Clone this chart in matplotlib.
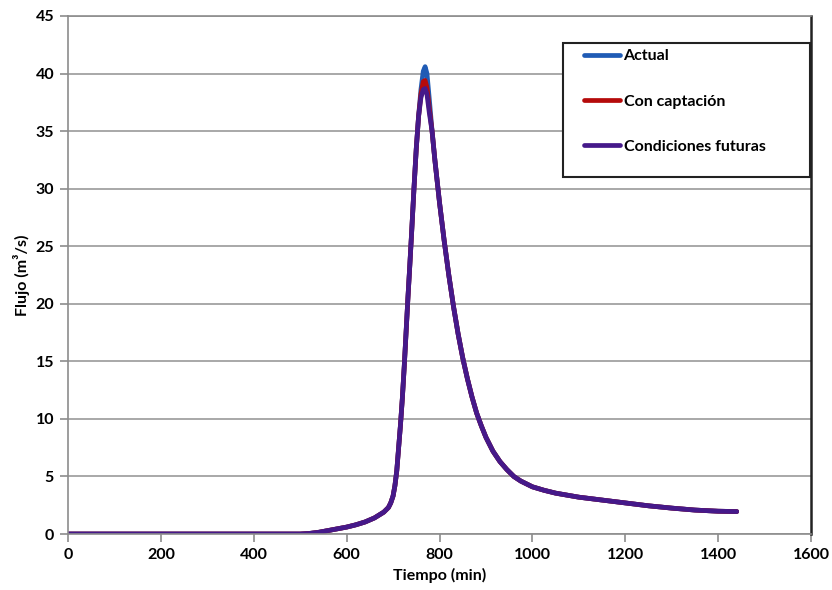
import matplotlib.pyplot as plt
from matplotlib.patches import Rectangle

plt.rcParams['font.family'] = ['Lato', 'DejaVu Sans']

# Hydrograph readings (time in minutes, flow in m3/s)
tiempo = [0, 100, 200, 300, 400, 500, 520, 540, 560, 580, 600, 620, 640, 660,
          680, 690, 695, 700, 704, 708, 712, 716, 720, 724, 728, 732, 736, 740,
          745, 750, 755, 760, 765, 769, 773, 778, 784, 790, 800, 810, 820, 830,
          840, 850, 860, 870, 880, 890, 900, 915, 930, 945, 960, 975, 990, 1000,
          1025, 1050, 1100, 1150, 1200, 1250, 1300, 1350, 1400, 1440]

subida = [0, 0, 0, 0, 0, 0, 0.05, 0.15, 0.3, 0.45, 0.6, 0.8, 1.05, 1.4,
          1.9, 2.3, 2.7, 3.3, 4.2, 5.5, 7.5, 9.5, 11.8, 14.5, 17.5, 20.5, 23.3,
          26.2, 30.0, 33.5, 36.3]
bajada = [35.0, 32.5, 28.8, 25.5, 22.5, 19.8,
          17.4, 15.3, 13.5, 11.9, 10.5, 9.4, 8.4, 7.2, 6.3, 5.6, 5.0, 4.6, 4.3, 4.1,
          3.8, 3.55, 3.2, 2.95, 2.7, 2.45, 2.25, 2.08, 1.98, 1.95]

actual = subida + [38.6, 40.2, 40.6, 40.0, 37.8] + bajada
captacion = subida + [38.2, 39.3, 39.4, 38.8, 37.0] + bajada
futuras = subida + [37.9, 38.6, 38.7, 38.2, 36.6] + bajada

series = [
    ("Actual", actual, "#1f5bb5"),
    ("Con captación", captacion, "#b50a0a"),
    ("Condiciones futuras", futuras, "#45198a"),
]

fig = plt.figure(figsize=(8.32, 5.90), dpi=100)
ax = fig.add_axes([0.0817, 0.0949, 0.8931, 0.878])

for nombre, valores, color in series:
    ax.plot(tiempo, valores, color=color, lw=3.4, label=nombre,
            solid_joinstyle='round', solid_capstyle='round')

ax.set_xlim(0, 1600)
ax.set_ylim(0, 45)
ax.set_xticks(range(0, 1601, 200))
ax.set_yticks(range(0, 46, 5))
ax.yaxis.grid(True, color='#9a9a9a', lw=1.2)
ax.set_axisbelow(True)

for lado in ['left', 'bottom', 'top']:
    ax.spines[lado].set_color('#8c8c8c')
    ax.spines[lado].set_linewidth(1.2)
ax.spines['right'].set_color('#222222')
ax.spines['right'].set_linewidth(1.8)

ax.tick_params(direction='out', length=6, width=1.2, color='#8c8c8c',
               labelsize=11.5, pad=4)
for lbl in ax.get_xticklabels() + ax.get_yticklabels():
    lbl.set_fontweight('bold')

ax.set_xlabel('Tiempo (min)', fontsize=11.5, fontweight='bold', labelpad=4)
ax.set_ylabel('Flujo (m³/s)', fontsize=11.5, fontweight='bold', labelpad=4)

# legend box drawn separately so it can be taller than its entries
ax.add_patch(Rectangle((0.666, 0.689), 0.333, 0.259, transform=ax.transAxes,
                       facecolor='white', edgecolor='#222222', lw=1.5,
                       zorder=4, clip_on=False))
leg = ax.legend(loc='upper left', bbox_to_anchor=(0.694, 0.936),
                frameon=False, handlelength=2.3, handletextpad=0.2,
                labelspacing=1.95, borderaxespad=0, borderpad=0,
                prop={'weight': 'bold', 'size': 11.5})
leg.set_zorder(5)

fig.savefig('out.png', dpi=100)
